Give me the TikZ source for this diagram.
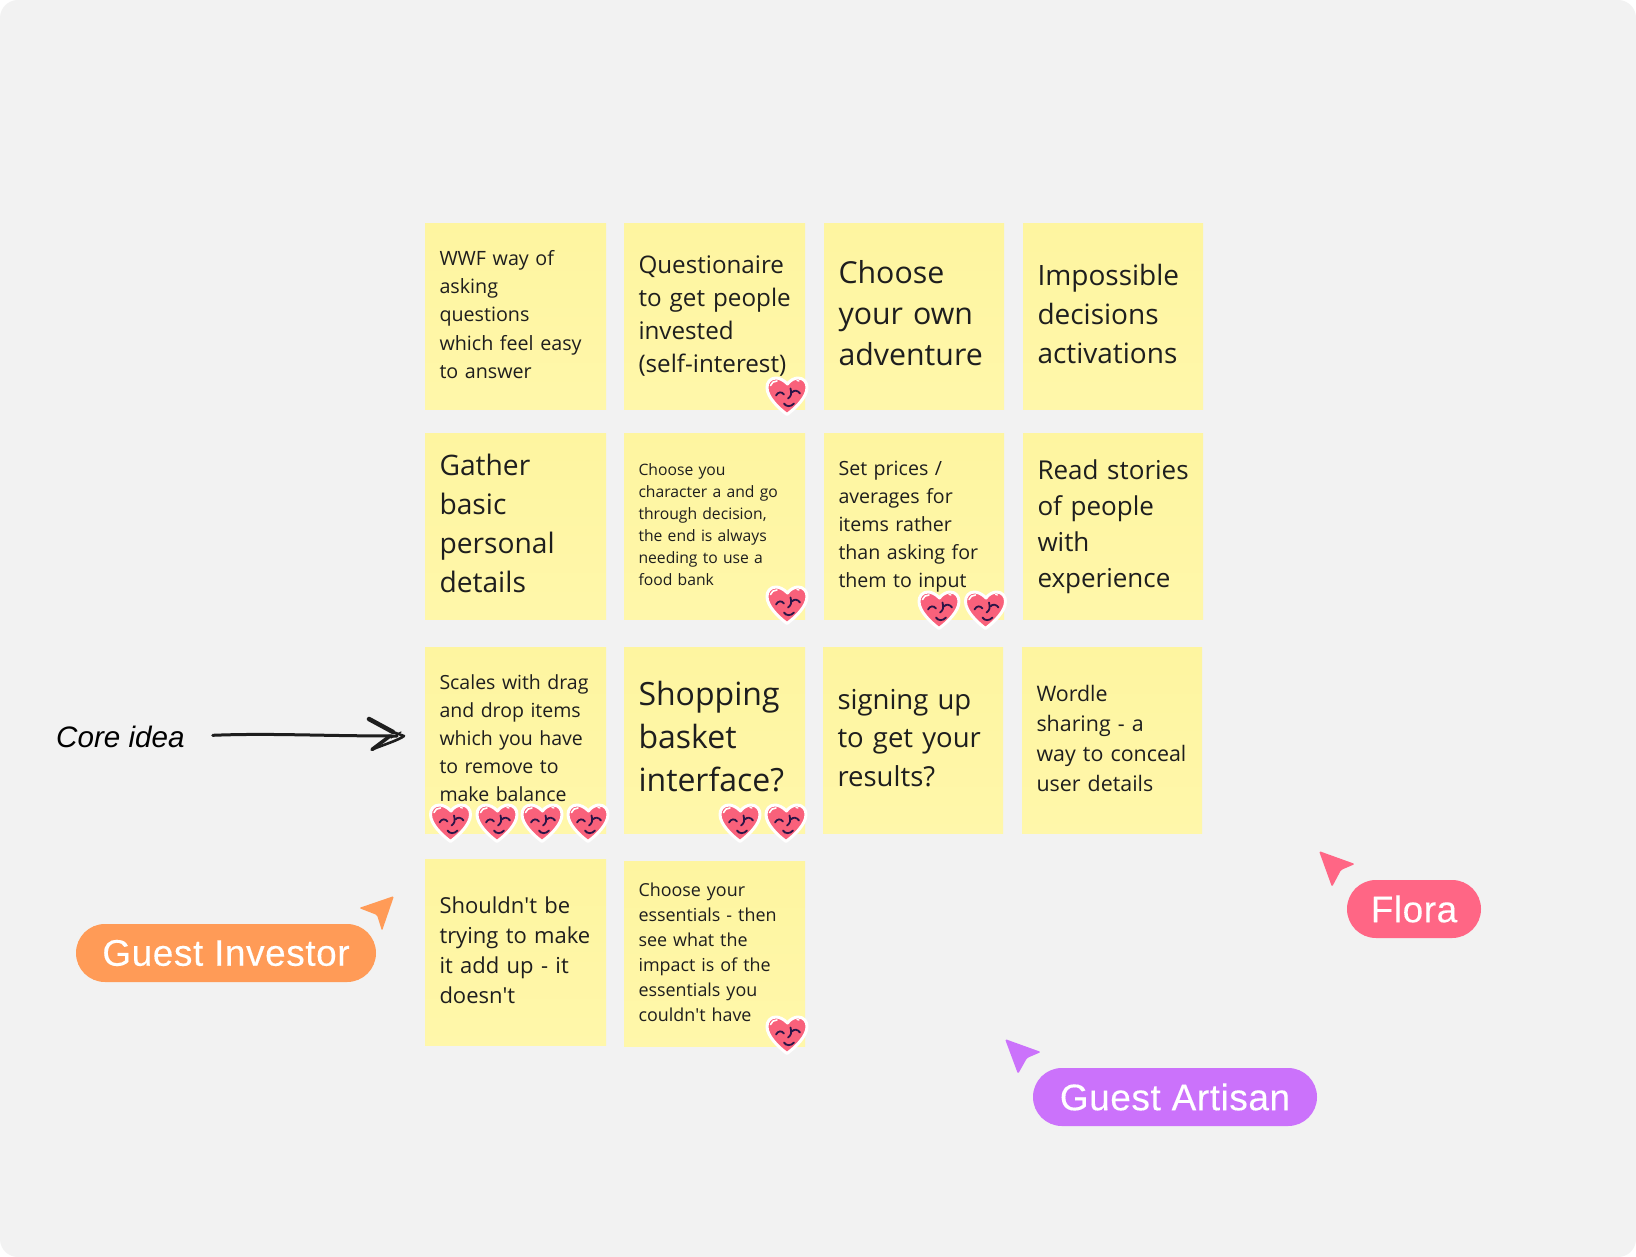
\documentclass[tikz,border=0pt]{standalone}
\usepackage{fontspec}
\setmainfont{Open Sans}
\newfontfamily\labelfont[LetterSpace=1.5,FakeBold=0.2]{Liberation Sans}
\newfontfamily\coreFont{Liberation Sans}
\definecolor{boardbg}{HTML}{F2F2F2}
\definecolor{ink}{HTML}{1E1E1E}
\definecolor{notetop}{HTML}{FEF5A0}
\definecolor{notebot}{HTML}{FFF7AA}
\definecolor{heartpink}{HTML}{F9617B}
\definecolor{heartface}{HTML}{2B1547}
\definecolor{cursorpink}{HTML}{FF6685}
\definecolor{cursororange}{HTML}{FF9B57}
\definecolor{cursorpurple}{HTML}{CB72FB}
\tikzset{
  x=1pt,y=-1pt,
  notecard/.style={inner sep=0pt,top color=notetop,bottom color=notebot,draw=none,align=left,text=ink},
  pill/.style={inner sep=0pt,rounded corners=28.9pt,text=white,align=center},
  cursorshape/.style={rounded corners=1.5pt,draw=none},
  heartpic/.pic={
    \path[fill=heartpink,draw=white,line width=3pt,line join=round]
      (0.5,-12.5) .. controls (3,-16.5) and (8,-18.5) .. (11,-18.5)
      .. controls (17,-18.5) and (20,-14) .. (20,-9)
      .. controls (20,1) and (8,12) .. (0,18)
      .. controls (-8,12) and (-20,1) .. (-20,-9)
      .. controls (-20,-14) and (-17,-18.5) .. (-11,-18.5)
      .. controls (-8,-18.5) and (-3,-16.5) .. (0.5,-12.5) -- cycle;
    \draw[white,line width=1.6pt,line cap=round] (-16.5,-11) .. controls (-15.5,-14) and (-13,-15.5) .. (-10,-15.5);
    \draw[white,line width=1.3pt,line cap=round] (10,-16) -- (12,-15.5);
    \draw[heartface,line width=1.8pt,line cap=round]
      (-11,-1) .. controls (-9,-5) and (-5,-5) .. (-3,-2);
    \draw[heartface,line width=1.8pt,line cap=round]
      (5,-4) .. controls (7,-7) and (11,-6) .. (13,-3);
    \draw[heartface,line width=1.8pt,line cap=round]
      (3.5,-8) .. controls (5,-3) and (4,0) .. (1,2);
    \draw[heartface,line width=1.8pt,line cap=round]
      (-3,7) .. controls (-1,10.5) and (4,10.5) .. (7,7);
  }
}
\newcommand{\notecard}[8]{%
  \node[notecard,minimum width={(#4-#2)*1pt},minimum height={(#5-#3)*1pt},text width={(#4-#2-29)*1pt},
    font=\fontsize{#6}{#7}\selectfont] (#1) at ({(#2+#4)/2},{(#3+#5)/2}) {\begin{tabular}{@{}l@{}}#8\end{tabular}};}
\begin{document}
\begin{tikzpicture}
\useasboundingbox (0,0) rectangle (1636,1257);
\path[fill=white] (0,0) rectangle (1636,1257);
\path[fill=boardbg,rounded corners=18pt] (0,0) rectangle (1636,1257);

\notecard{n1}{425}{223.5}{606}{409}{19.7}{28.2}{WWF way of\\asking\\questions\\which feel easy\\to answer}
\notecard{n2}{624}{223.5}{805}{409}{24.2}{32.9}{Questionaire\\to get people\\invested\\(self-interest)}
\notecard{n3}{824}{223.5}{1004}{409}{30.3}{40.7}{Choose\\your own\\adventure}
\notecard{n4}{1023}{223.5}{1203}{409}{28}{39}{Impossible\\decisions\\activations}
\notecard{n5}{425}{433}{606}{619}{28.2}{39}{Gather\\basic\\personal\\details}
\notecard{n6}{624}{433}{805}{619}{15.7}{21.9}{Choose you\\character a and go\\through decision,\\the end is always\\needing to use a\\food bank}
\notecard{n7}{824}{433}{1004}{619}{19.6}{28}{Set prices /\\averages for\\items rather\\than asking for\\them to input}
\notecard{n8}{1023}{433}{1203}{619}{26}{36}{Read stories\\of people\\with\\experience}
\notecard{n9}{425}{647}{606}{833}{19.5}{28}{Scales with drag\\and drop items\\which you have\\to remove to\\make balance}
\notecard{n10}{624}{647}{805}{833}{32}{43.3}{Shopping\\basket\\interface?}
\notecard{n11}{823}{647}{1003}{833}{27.5}{38.6}{signing up\\to get your\\results?}
\notecard{n12}{1022}{647}{1202}{833}{21.4}{30}{Wordle\\sharing - a\\way to conceal\\user details}
\notecard{n13}{425}{859}{606}{1045}{22}{30}{Shouldn\textquotesingle t be\\trying to make\\it add up - it\\doesn\textquotesingle t}
\notecard{n14}{624}{861}{805}{1046.5}{17.9}{25}{Choose your\\essentials - then\\see what the\\impact is of the\\essentials you\\couldn\textquotesingle t have}

\path (787,396.5) pic {heartpic};
\path (787,605.5) pic {heartpic};
\path (939,610.5) pic {heartpic};
\path (985.5,610.5) pic {heartpic};
\path (450.5,823.5) pic {heartpic};
\path (497,823.5) pic {heartpic};
\path (542,823.5) pic {heartpic};
\path (588,823.5) pic {heartpic};
\path (740,823.5) pic {heartpic};
\path (786,823.5) pic {heartpic};
\path (787,1035.5) pic {heartpic};

% Core idea with hand-drawn arrow
\node[inner sep=0pt,anchor=base west,text=black,font=\fontsize{29.6}{36}\selectfont\coreFont\itshape] (core) at (56,747) {Core idea};
\coordinate (arrowend) at (405,736);
\draw[ink,line width=3pt,line cap=round,shorten <=28pt]
  (core.east) .. controls (270,733) and (320,736) .. ([xshift=-8pt]arrowend);
\draw[ink,line width=4.5pt,line cap=round,line join=round]
  ([shift={(-36,-17)}]arrowend) -- ([shift={(-12,-4)}]arrowend);
\draw[ink,line width=2.6pt,line cap=round,line join=round]
  ([shift={(-12,-4)}]arrowend) -- ([shift={(-1,0)}]arrowend) .. controls ([shift={(-6,4)}]arrowend) and ([shift={(-22,9)}]arrowend) .. ([shift={(-33,13.5)}]arrowend);
\draw[ink,line width=3.6pt,line cap=round,line join=round]
  ([shift={(-33,13.5)}]arrowend) -- ([shift={(-15,0)}]arrowend);
\draw[ink,line width=1.2pt,line cap=round]
  ([shift={(-4,-4)}]arrowend) -- ([shift={(-14,2)}]arrowend);

% Participant cursors
\node[pill,fill=cursororange,minimum width=300pt,minimum height=58pt,font=\fontsize{37}{40}\selectfont\labelfont] (investor) at (226,953) {Guest Investor};
\path[fill=cursororange,cursorshape] (394,896) -- (359,908) -- (377,915) -- (382,931) -- cycle;

\node[pill,fill=cursorpink,minimum width=134pt,minimum height=58pt,font=\fontsize{37}{40}\selectfont\labelfont] (flora) at (1414,909) {Flora};
\path[fill=cursorpink,cursorshape] (1319,851) -- (1355,864) -- (1341,870) -- (1332,887) -- cycle;

\node[pill,fill=cursorpurple,minimum width=284pt,minimum height=58pt,font=\fontsize{37}{40}\selectfont\labelfont] (artisan) at (1175,1097) {Guest Artisan};
\path[fill=cursorpurple,cursorshape] (1005,1039) -- (1041,1052) -- (1027,1058) -- (1018,1074) -- cycle;
\end{tikzpicture}
\end{document}
